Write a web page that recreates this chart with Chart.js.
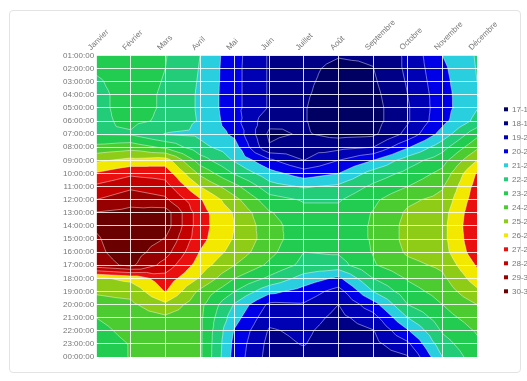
<!DOCTYPE html>
<html>
<head>
<meta charset="utf-8">
<script src="https://cdn.jsdelivr.net/npm/chart.js@4.4.1/dist/chart.umd.min.js"></script>
<style>
  html, body { margin: 0; padding: 0; background: #fff; overflow: hidden; }
  #frame { position: absolute; left: 9px; top: 10px; width: 510px; height: 361px;
           border: 1px solid #e3e3e3; border-radius: 4px; }
  #wrap { position: absolute; left: 0; top: 0; width: 527px; height: 381px; }
</style>
</head>
<body>
<div id="frame"></div>
<div id="wrap"><canvas id="chart" width="527" height="381"></canvas></div>
<script>
// Axis categories
const months = ['Janvier', 'Février', 'Mars', 'Avril', 'Mai', 'Juin', 'Juillet',
                'Août', 'Septembre', 'Octobre', 'Novembre', 'Décembre'];
const hours = ['01:00:00', '02:00:00', '03:00:00', '04:00:00', '05:00:00', '06:00:00',
               '07:00:00', '08:00:00', '09:00:00', '10:00:00', '11:00:00', '12:00:00',
               '13:00:00', '14:00:00', '15:00:00', '16:00:00', '17:00:00', '18:00:00',
               '19:00:00', '20:00:00', '21:00:00', '22:00:00', '23:00:00', '00:00:00'];

// Hourly temperature (°C) for each month, 01:00 -> 00:00
const janvier   = [23.3, 23.1, 22.9, 22.8, 22.8, 22.8, 22.95, 24.3, 25.8, 27.1, 28.2, 29.0, 30.05, 30.1, 29.9, 29.8, 29.6, 25.8, 25.1, 24.7, 24.0, 23.7, 23.5, 23.4];
const fevrier   = [23.4, 23.4, 23.35, 23.3, 23.3, 23.2, 22.9, 24.6, 26.3, 27.8, 28.8, 29.6, 30.3, 30.6, 30.6, 30.5, 30.2, 26.3, 25.3, 24.8, 24.5, 24.3, 24.05, 24.05];
const mars      = [23.05, 23.0, 22.95, 22.9, 22.9, 22.85, 21.95, 23.8, 26.5, 27.6, 28.4, 29.2, 30.5, 30.5, 29.95, 29.4, 28.6, 27.6, 27.05, 25.8, 24.8, 24.6, 24.4, 24.3];
const avril     = [22.0, 21.95, 21.9, 21.85, 21.85, 21.9, 21.8, 22.3, 23.5, 24.8, 26.0, 27.1, 27.4, 27.4, 27.3, 26.95, 26.5, 25.9, 24.8, 24.3, 24.2, 24.2, 24.2, 24.2];
const mai       = [20.33, 20.3, 20.3, 20.3, 20.3, 20.4, 20.8, 21.4, 21.9, 22.9, 24.3, 25.3, 25.9, 26.0, 25.9, 25.6, 25.0, 24.0, 23.0, 21.9, 21.4, 20.9, 20.7, 20.6];
const juin      = [18.9, 18.9, 18.9, 18.9, 18.9, 18.3, 17.8, 18.1, 20.2, 21.4, 22.4, 23.4, 24.1, 24.4, 24.5, 24.3, 23.8, 22.8, 21.3, 19.8, 19.3, 18.9, 18.7, 18.6];
const juillet   = [18.3, 18.2, 18.15, 18.1, 18.05, 18.05, 18.1, 18.6, 19.0, 20.5, 21.9, 22.9, 23.3, 23.4, 23.3, 23.0, 22.7, 21.6, 20.6, 19.9, 19.5, 19.2, 19.05, 18.7];
const aout      = [18.05, 17.8, 17.7, 17.6, 17.5, 17.5, 17.7, 18.7, 20.0, 21.0, 22.2, 22.9, 23.3, 23.5, 23.4, 23.1, 22.6, 20.8, 19.6, 19.0, 18.7, 18.5, 18.4, 18.3];
const septembre = [18.1, 17.98, 17.85, 17.7, 17.6, 17.6, 17.8, 19.0, 21.0, 22.4, 23.2, 23.8, 24.05, 24.1, 24.1, 24.05, 23.9, 23.0, 22.0, 20.6, 19.6, 18.95, 18.7, 18.5];
const octobre   = [19.2, 19.2, 19.1, 19.0, 18.9, 18.9, 19.3, 20.9, 22.5, 23.3, 24.0, 24.8, 25.15, 25.3, 25.3, 25.15, 24.7, 24.1, 23.6, 23.0, 22.0, 20.9, 19.8, 18.9];
const novembre  = [21.0, 20.8, 20.7, 20.6, 20.6, 20.7, 21.4, 22.6, 23.6, 24.3, 24.9, 25.3, 25.6, 25.7, 25.7, 25.6, 25.2, 24.8, 24.4, 24.0, 23.6, 23.1, 22.6, 22.0];
const decembre  = [22.1, 22.05, 22.0, 22.0, 21.95, 22.3, 23.7, 24.8, 26.0, 27.1, 27.4, 27.6, 27.8, 27.9, 27.8, 27.6, 27.1, 26.5, 25.8, 25.0, 24.5, 24.1, 23.8, 23.6];

// Contour levels and the colour of each band between two levels
const levels = [17, 18, 19, 20, 21, 22, 23, 24, 25, 26, 27, 28, 29, 30, 31];
const bandColors = ['#000062', '#000086', '#0000b4', '#0000e8', '#2acfdf', '#22cc78',
                    '#22cc50', '#4ccc30', '#8fcc18', '#f2e800', '#ea1010', '#c40000',
                    '#960000', '#6a0000'];
const bandLabels = levels.slice(0, -1).map((lo, i) => lo + '-' + levels[i + 1]);

const monthly = [janvier, fevrier, mars, avril, mai, juin, juillet, aout,
                 septembre, octobre, novembre, decembre];

// One point per (month, hour) node; the scatter controller places them on the scales
const nodes = [];
months.forEach((m, i) => hours.forEach((h, j) => nodes.push({ x: m, y: h, v: monthly[i][j] })));

// Keep the part of a polygon where the (linear) value is >= t
function clipAbove(poly, t) {
  const out = [];
  for (let i = 0; i < poly.length; i++) {
    const p = poly[i], q = poly[(i + 1) % poly.length];
    const pin = p.v >= t, qin = q.v >= t;
    if (pin) out.push(p);
    if (pin !== qin) {
      const f = (t - p.v) / (q.v - p.v);
      out.push({ x: p.x + f * (q.x - p.x), y: p.y + f * (q.y - p.y), v: t });
    }
  }
  return out;
}

// Iso-line segment of value t inside a triangle
function isoSegment(tri, t) {
  const pts = [];
  for (let i = 0; i < 3; i++) {
    const p = tri[i], q = tri[(i + 1) % 3];
    if ((p.v - t) * (q.v - t) < 0) {
      const f = (t - p.v) / (q.v - p.v);
      pts.push({ x: p.x + f * (q.x - p.x), y: p.y + f * (q.y - p.y) });
    }
  }
  return pts.length === 2 ? pts : null;
}

// Filled contour bands drawn from the scatter nodes, under the grid
const contourFill = {
  id: 'contourFill',
  beforeDatasetsDraw(chart) {
    const meta = chart.getDatasetMeta(0);
    const els = meta.data;
    const data = chart.data.datasets[0].data;
    const nx = months.length, ny = hours.length;
    const node = (i, j) => {
      const k = i * ny + j;
      return { x: els[k].x, y: els[k].y, v: data[k].v };
    };
    const tris = [];
    for (let i = 0; i < nx - 1; i++) {
      for (let j = 0; j < ny - 1; j++) {
        const a = node(i, j), b = node(i + 1, j), c = node(i + 1, j + 1), d = node(i, j + 1);
        const e = { x: (a.x + b.x + c.x + d.x) / 4, y: (a.y + b.y + c.y + d.y) / 4,
                    v: (a.v + b.v + c.v + d.v) / 4 };
        tris.push([a, b, e], [b, c, e], [c, d, e], [d, a, e]);
      }
    }
    const ctx = chart.ctx;
    const area = chart.chartArea;
    ctx.save();
    ctx.beginPath();
    ctx.rect(area.left, area.top, area.right - area.left, area.bottom - area.top);
    ctx.clip();

    const p0 = node(0, 0), p1 = node(nx - 1, ny - 1);
    ctx.fillStyle = bandColors[0];
    ctx.fillRect(p0.x, p0.y, p1.x - p0.x, p1.y - p0.y);

    for (let k = 1; k < bandColors.length; k++) {
      const t = levels[k];
      ctx.beginPath();
      for (const tri of tris) {
        const poly = clipAbove(tri, t);
        if (poly.length < 3) continue;
        ctx.moveTo(poly[0].x, poly[0].y);
        for (let n = 1; n < poly.length; n++) ctx.lineTo(poly[n].x, poly[n].y);
        ctx.closePath();
      }
      ctx.fillStyle = bandColors[k];
      ctx.fill();
    }

    ctx.beginPath();
    for (let k = 1; k < bandColors.length; k++) {
      const t = levels[k] + 1e-7;
      for (const tri of tris) {
        const s = isoSegment(tri, t);
        if (!s) continue;
        ctx.moveTo(s[0].x, s[0].y);
        ctx.lineTo(s[1].x, s[1].y);
      }
    }
    ctx.strokeStyle = 'rgba(255,255,255,0.55)';
    ctx.lineWidth = 0.8;
    ctx.stroke();
    ctx.restore();
  }
};

const tickFont = { family: '"Liberation Sans", Arial, sans-serif', size: 8 };
const whiteGrid = { color: 'rgba(255,255,255,0.85)', lineWidth: 1, drawTicks: false, z: 1 };

new Chart(document.getElementById('chart'), {
  type: 'scatter',
  data: {
    datasets: [{
      label: 'Température',
      data: nodes,
      pointRadius: 0,
      pointHoverRadius: 0
    }]
  },
  options: {
    responsive: false,
    animation: false,
    events: [],
    layout: { padding: { left: 61, top: 15, right: 0, bottom: 24 } },
    scales: {
      x: {
        type: 'category',
        labels: months,
        position: 'top',
        offset: false,
        grid: whiteGrid,
        border: { display: false },
        ticks: { autoSkip: false, minRotation: 45, maxRotation: 45, padding: 3,
                 color: '#777', font: tickFont }
      },
      y: {
        type: 'category',
        labels: hours,
        position: 'left',
        offset: false,
        grid: whiteGrid,
        border: { display: false },
        ticks: { autoSkip: false, padding: 2, color: '#777', font: tickFont }
      },
      // empty right-hand band that keeps the legend clear of the plot
      gap: {
        type: 'linear',
        position: 'right',
        grid: { display: false, drawTicks: false },
        border: { display: false },
        ticks: { display: false },
        afterFit(scale) { scale.width = 21; }
      }
    },
    plugins: {
      tooltip: { enabled: false },
      legend: {
        position: 'right',
        maxWidth: 29,
        title: { display: true, text: '', font: { size: 8 }, padding: { top: 19, bottom: 0 } },
        labels: {
          usePointStyle: true,
          boxWidth: 4,
          boxHeight: 4,
          padding: 6,
          color: '#777',
          font: tickFont,
          generateLabels: () => bandLabels.map((text, i) => ({
            text,
            fillStyle: bandColors[i],
            strokeStyle: bandColors[i],
            lineWidth: 0,
            pointStyle: 'rect',
            fontColor: '#777',
            hidden: false,
            datasetIndex: 0
          }))
        }
      }
    }
  },
  plugins: [contourFill]
});
</script>
</body>
</html>
